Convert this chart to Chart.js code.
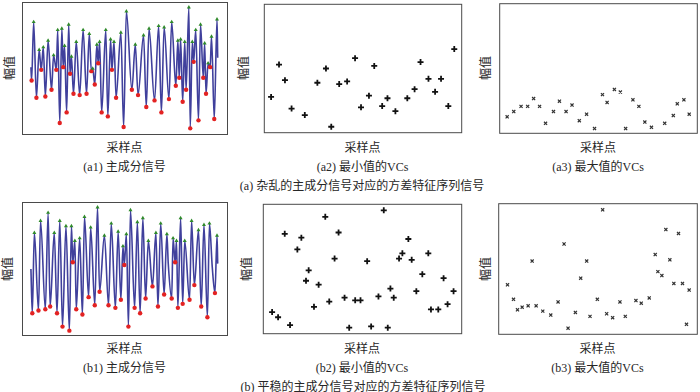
<!DOCTYPE html>
<html><head><meta charset="utf-8">
<script src="https://cdn.jsdelivr.net/npm/chart.js@4.4.1/dist/chart.umd.min.js"></script>
<style>
body{margin:0;width:700px;height:392px;background:#fff;position:relative;overflow:hidden;font-family:"Liberation Serif","Noto Sans CJK SC",serif;color:#262626;}
canvas{position:absolute;}
.t{position:absolute;font-size:12px;line-height:14px;white-space:nowrap;transform:translate(-50%,-50%);}
.v{transform:translate(-50%,-50%) rotate(-90deg);}
</style></head><body>
<script>
// ---- text ----
const xAxisLabel = '采样点';
const yAxisLabel = '幅值';
const subCaptions = ['(a1) 主成分信号','(a2) 最小值的VCs','(a3) 最大值的VCs','(b1) 主成分信号','(b2) 最小值的VCs','(b3) 最大值的VCs'];
const groupCaptions = ['(a) 杂乱的主成分信号对应的方差特征序列信号','(b) 平稳的主成分信号对应的方差特征序列信号'];

// ---- (a1) cluttered principal component signal ----
const a1Sample = [13,14,17,21,25,28,31,34,38,43,46,50,52,55,58,60,62,65,68,70,72,75,79,84,89,94,98,101,103,106,109,111,113,116,122,125,129,131,134,137,144,148,152,160,165,169,177,181,185,193,199,203,207,214,218,224,227,229,231,234,237,239,243,245,248,250,253,257,260,264,266,268,271,274,276,280,284,285];
const a1Amp = [0.51,0.41,0.85,0.28,0.64,0.49,0.66,0.29,0.71,0.34,0.60,0.49,0.79,0.09,0.80,0.51,0.67,0.17,0.83,0.46,0.59,0.31,0.70,0.30,0.79,0.31,0.76,0.48,0.50,0.38,0.68,0.54,0.70,0.17,0.79,0.14,0.72,0.49,0.70,0.28,0.77,0.06,0.93,0.34,0.68,0.30,0.75,0.21,0.80,0.26,0.82,0.17,0.81,0.27,0.85,0.37,0.71,0.43,0.72,0.25,0.70,0.34,0.96,0.05,0.70,0.55,0.79,0.11,0.83,0.43,0.69,0.31,0.54,0.51,0.74,0.12,0.87,0.58];
// ---- (a2) VCs of minima ----
const a2Sample = [11,23,32,42,62,81,94,102,114,126,138,147,159,167,179,187,199,217,228,237,249,259,268,279,288];
const a2Value = [0.28,0.53,0.41,0.19,0.14,0.39,0.50,0.05,0.38,0.40,0.58,0.20,0.29,0.52,0.21,0.27,0.17,0.27,0.34,0.55,0.42,0.32,0.42,0.21,0.65];
// ---- (a3) VCs of maxima ----
const a3Sample = [12,22,33,43,52,61,70,82,91,101,110,121,132,144,156,163,174,183,191,202,211,220,230,250,263,269,279,287];
const a3Value = [0.13,0.17,0.21,0.21,0.27,0.21,0.08,0.17,0.25,0.17,0.22,0.10,0.15,0.04,0.30,0.24,0.34,0.32,0.04,0.26,0.21,0.09,0.05,0.08,0.14,0.23,0.26,0.15];
// ---- (b1) stationary principal component signal ----
const b1Sample = [13,15,18,24,27,34,38,41,47,51,55,59,64,69,72,74,77,79,84,88,91,97,100,106,110,113,120,126,130,136,140,144,147,149,152,155,158,164,168,172,176,180,184,190,195,198,202,207,211,213,218,220,223,225,227,231,234,237,244,247,251,257,261,265,270,273,277,281,284,285];
const b1Amp = [0.50,0.17,0.77,0.19,0.86,0.20,0.92,0.22,0.77,0.17,0.86,0.07,0.82,0.04,0.82,0.55,0.71,0.20,0.73,0.16,0.89,0.29,0.81,0.23,0.96,0.33,0.75,0.23,0.84,0.21,0.78,0.27,0.67,0.53,0.76,0.07,0.94,0.21,0.85,0.17,0.88,0.28,0.71,0.37,0.77,0.22,0.84,0.31,0.76,0.54,0.28,0.73,0.55,0.71,0.21,0.88,0.24,0.71,0.27,0.86,0.38,0.79,0.22,0.83,0.14,0.84,0.52,0.32,0.75,0.54];
// ---- (b2) VCs of minima ----
const b2Sample = [14,23,33,41,52,58,65,69,77,84,94,100,108,114,123,130,139,147,157,163,174,182,188,192,197,205,210,219,224,231,240,249,253,264,272,278,287];
const b2Value = [0.17,0.13,0.77,0.07,0.65,0.74,0.41,0.49,0.21,0.38,0.90,0.25,0.58,0.78,0.28,0.05,0.26,0.26,0.56,0.06,0.29,0.95,0.05,0.35,0.28,0.58,0.62,0.73,0.57,0.33,0.46,0.62,0.19,0.19,0.43,0.23,0.33];
// ---- (b3) VCs of maxima ----
const b3Sample = [14,23,29,36,45,51,57,67,79,90,99,105,116,124,133,138,149,157,163,172,183,191,207,215,227,236,240,246,252,258,264,271,277,283,287];
const b3Value = [0.38,0.27,0.19,0.21,0.22,0.56,0.22,0.18,0.15,0.25,0.69,0.05,0.17,0.43,0.56,0.14,0.27,0.95,0.16,0.13,0.25,0.14,0.26,0.24,0.28,0.61,0.48,0.45,0.80,0.57,0.39,0.77,0.39,0.08,0.34];

// ---- layout (page pixels) ----
const boxes = [
  {l:21,t:1,r:228,b:135},{l:261,t:1,r:464,b:135},{l:497,t:1,r:699,b:135},
  {l:21,t:201,r:228,b:336},{l:260,t:201,r:464,b:336},{l:496,t:201,r:699,b:336}
];
const yLabelX = [10,244,486,8,247,486];
const PAD = 3;

function pts(xs, ys){ return xs.map((x,i)=>({x:x,y:ys[i]})); }
function extrema(xs, ys){
  const max=[], min=[];
  for(let i=1;i<ys.length-1;i++){
    if(ys[i]>ys[i-1]&&ys[i]>ys[i+1]) max.push({x:xs[i],y:ys[i]});
    else if(ys[i]<ys[i-1]&&ys[i]<ys[i+1]) min.push({x:xs[i],y:ys[i]});
  }
  return {max,min};
}
const frame = {id:'frame', afterDraw(c){
  const a=c.chartArea, ctx=c.ctx; ctx.save(); ctx.strokeStyle='#4a4a4a'; ctx.lineWidth=1;
  ctx.strokeRect(a.left+0.5,a.top+0.5,a.right-a.left-1,a.bottom-a.top-1); ctx.restore();
}};

function signalSets(xs, ys){
  const e = extrema(xs, ys);
  return [
    {data:e.max, pointStyle:'triangle', pointRadius:2.3, backgroundColor:'#2f8a2a', borderColor:'#2f8a2a', borderWidth:0, order:1},
    {data:e.min, pointStyle:'circle', pointRadius:2.2, backgroundColor:'#e32222', borderColor:'#e32222', borderWidth:0, order:1},
    {data:pts(xs,ys), showLine:true, borderColor:'#40409c', borderWidth:1.6, pointRadius:0, cubicInterpolationMode:'monotone', order:2}
  ];
}
function minSets(xs, ys){
  return [{data:pts(xs,ys), pointStyle:'cross', pointRadius:3, borderWidth:1.8, borderColor:'#111', backgroundColor:'#111'}];
}
function maxSets(xs, ys){
  return [{data:pts(xs,ys), pointStyle:'crossRot', pointRadius:2.2, borderWidth:1.2, borderColor:'#333', backgroundColor:'#333'}];
}
const panels = [
  signalSets(a1Sample,a1Amp), minSets(a2Sample,a2Value), maxSets(a3Sample,a3Value),
  signalSets(b1Sample,b1Amp), minSets(b2Sample,b2Value), maxSets(b3Sample,b3Value)
];

function addText(txt, x, y, cls){
  const d=document.createElement('div'); d.className='t'+(cls?' '+cls:''); d.textContent=txt;
  d.style.left=x+'px'; d.style.top=y+'px'; document.body.appendChild(d);
}

boxes.forEach((bx,i)=>{
  const cv=document.createElement('canvas');
  const w=bx.r-bx.l+1+2*PAD, h=bx.b-bx.t+1+2*PAD;
  cv.width=w; cv.height=h; cv.style.left=(bx.l-PAD)+'px'; cv.style.top=(bx.t-PAD)+'px';
  cv.style.width=w+'px'; cv.style.height=h+'px';
  document.body.appendChild(cv);
  new Chart(cv,{type:'scatter',data:{datasets:panels[i]},plugins:[frame],
    options:{responsive:false,animation:false,devicePixelRatio:1,layout:{padding:PAD},
      plugins:{legend:{display:false},tooltip:{enabled:false}},
      scales:{x:{type:'linear',display:false,min:0,max:300},y:{display:false,min:0,max:1}}}});
  const cx=(bx.l+bx.r)/2;
  addText(xAxisLabel, cx, bx.b+13);
  addText(subCaptions[i], cx, bx.b+32);
  addText(yAxisLabel, yLabelX[i], (bx.t+bx.b)/2, 'v');
});
addText(groupCaptions[0], 362, 186);
addText(groupCaptions[1], 363, 387);
</script></body></html>
